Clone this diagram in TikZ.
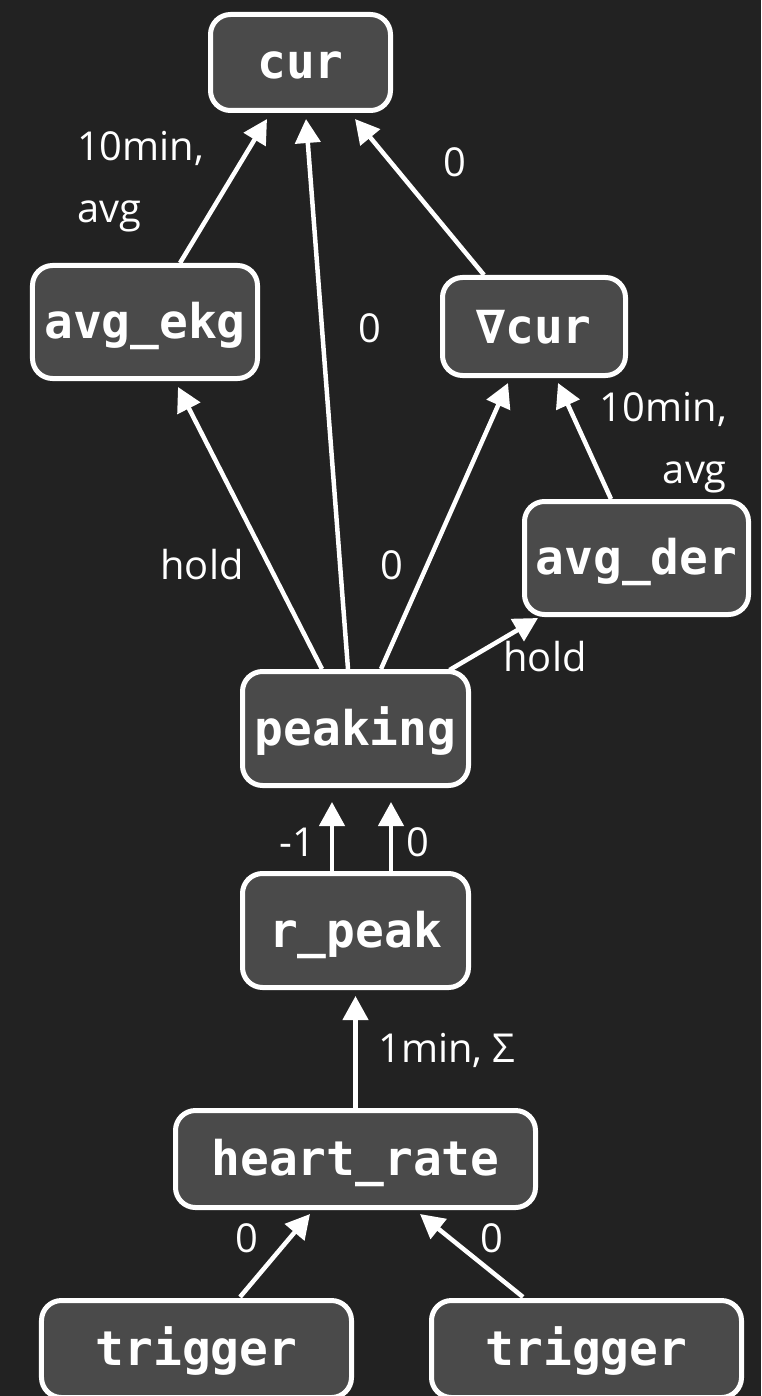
\documentclass[tikz,border=0pt]{standalone}
\usepackage{fontspec}
\setmainfont{Open Sans}
\setmonofont{DejaVu Sans Mono}
\usetikzlibrary{arrows.meta,calc}
\definecolor{bg}{HTML}{222222}
\definecolor{boxfill}{HTML}{4A4A4A}
\begin{document}
\begin{tikzpicture}[x=1bp,y=-1bp,
  box/.style={draw=white, line width=5bp, fill=boxfill, rounded corners=20bp,
    text=white, font=\ttfamily\bfseries\fontsize{48}{48}\selectfont,
    inner sep=0pt, text height=37bp, text depth=4bp},
  conn/.style={draw=white, line width=4.5bp, -{Triangle[length=24bp,width=25bp]}},
  lbl/.style={text=white, font=\fontsize{40}{62}\selectfont, inner sep=0pt}]
% canvas
\fill[bg] (0,0) rectangle (761,1396);
\useasboundingbox (0,0) rectangle (761,1396);

% signals
\node[box, minimum width=180bp, minimum height=96bp]  (cur)     at (300.5,62.5) {cur};
\node[box, minimum width=225bp, minimum height=113bp] (avgekg)  at (145,322)    {avg\_ekg};
\node[box, minimum width=183bp, minimum height=98bp]  (dcur)    at (534,326.5)  {∇cur};
\node[box, minimum width=224bp, minimum height=113bp] (avgder)  at (636.5,558)  {avg\_der};
\node[box, minimum width=226bp, minimum height=114bp] (peaking) at (355.5,728.5) {peaking};
\node[box, minimum width=226bp, minimum height=114bp] (rpeak)   at (355.5,930.5) {r\_peak};
\node[box, minimum width=360bp, minimum height=97bp]  (hrate)   at (355.5,1159) {heart\_rate};
\node[box, minimum width=310bp, minimum height=97bp]  (trigA)   at (196.5,1349) {trigger};
\node[box, minimum width=310bp, minimum height=97bp]  (trigB)   at (586.5,1349) {trigger};

% dependencies
\draw[conn] ($(avgekg.north)+(35,0)$)    -- ($(cur.south)+(-33.5,6)$);
\draw[conn] ($(peaking.north)+(-7.5,0)$) -- ($(cur.south)+(5.5,6)$);
\draw[conn] ($(dcur.north)+(-50,0)$)     -- ($(cur.south)+(54.5,6)$);
\draw[conn] ($(peaking.north)+(-33.5,0)$) -- ($(avgekg.south)+(33,6)$);
\draw[conn] ($(peaking.north)+(25.5,0)$) -- ($(dcur.south)+(-26,5)$);
\draw[conn] ($(avgder.north)+(-25.5,0)$) -- ($(dcur.south)+(24,5)$);
\draw[conn] ($(peaking.north)+(94,1)$)   -- ($(avgder.south)+(-98.5,1)$);
\draw[conn] ($(rpeak.north)+(-23.5,0)$)  -- ($(peaking.south)+(-23.5,14)$);
\draw[conn] ($(rpeak.north)+(35.5,0)$)   -- ($(peaking.south)+(35.5,14)$);
\draw[conn] (hrate.north)                -- ($(rpeak.south)+(0,6)$);
\draw[conn] ($(trigA.north)+(43.5,-1)$)  -- ($(hrate.south)+(-45.5,4)$);
\draw[conn] ($(trigB.north)+(-63.5,-1)$) -- ($(hrate.south)+(64.5,4)$);

% edge labels
\node[lbl, align=left, anchor=north west]  (l1)  at (77,131)   {10min,\\avg};
\node[lbl]                                  (l2)  at (370,328)  {0};
\node[lbl]                                  (l3)  at (455,162)  {0};
\node[lbl]                                  (l4)  at (202,565)  {hold};
\node[lbl]                                  (l5)  at (392,565)  {0};
\node[lbl, align=right, anchor=north east] (l6)  at (727,392)  {10min,\\avg};
\node[lbl]                                  (l7)  at (545,657)  {hold};
\node[lbl]                                  (l8)  at (297,842)  {-1};
\node[lbl]                                  (l9)  at (418,842)  {0};
\node[lbl, anchor=base west]               (l10) at (378,1062) {1min, Σ};
\node[lbl]                                  (l11) at (247,1238) {0};
\node[lbl]                                  (l12) at (492,1238) {0};
\end{tikzpicture}
\end{document}
